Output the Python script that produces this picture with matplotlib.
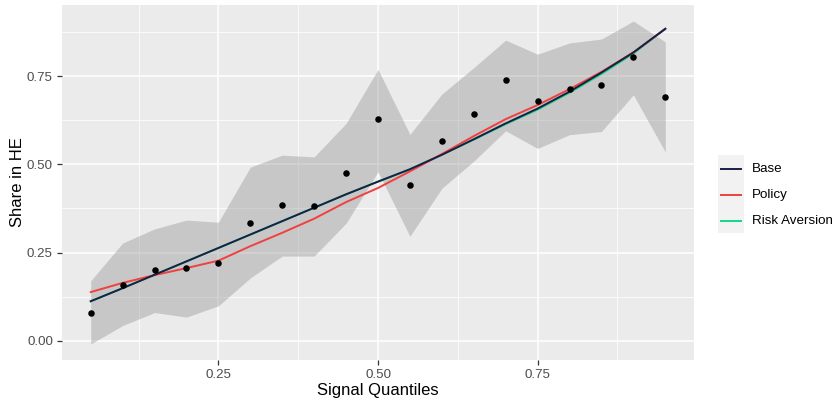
import numpy as np
import matplotlib
matplotlib.use("Agg")
import matplotlib.pyplot as plt
from matplotlib.lines import Line2D
from matplotlib.patches import Rectangle

plt.rcParams['font.family'] = ['Liberation Sans', 'DejaVu Sans']

# data
quantiles = [0.05, 0.10, 0.15, 0.20, 0.25, 0.30, 0.35, 0.40, 0.45, 0.50,
             0.55, 0.60, 0.65, 0.70, 0.75, 0.80, 0.85, 0.90, 0.95]
share = [0.080, 0.158, 0.201, 0.206, 0.219, 0.333, 0.384, 0.381, 0.475, 0.628,
         0.440, 0.567, 0.642, 0.738, 0.679, 0.713, 0.724, 0.804, 0.691]
ci_low = [-0.009, 0.043, 0.080, 0.067, 0.099, 0.178, 0.240, 0.240, 0.333, 0.479,
          0.296, 0.432, 0.509, 0.595, 0.545, 0.584, 0.593, 0.697, 0.535]
ci_high = [0.170, 0.277, 0.317, 0.342, 0.336, 0.492, 0.526, 0.521, 0.616, 0.769,
           0.585, 0.699, 0.774, 0.852, 0.812, 0.844, 0.855, 0.906, 0.847]
base = [0.112, 0.149, 0.187, 0.225, 0.263, 0.301, 0.339, 0.377, 0.415, 0.451,
        0.486, 0.527, 0.571, 0.616, 0.658, 0.706, 0.760, 0.817, 0.884]
policy = [0.138, 0.164, 0.186, 0.206, 0.227, 0.268, 0.306, 0.346, 0.393, 0.433,
          0.480, 0.529, 0.580, 0.628, 0.668, 0.713, 0.762, 0.817, 0.884]
risk_aversion = [0.112, 0.149, 0.187, 0.225, 0.263, 0.301, 0.339, 0.377, 0.415, 0.451,
                 0.486, 0.527, 0.570, 0.614, 0.655, 0.703, 0.756, 0.814, 0.884]

series_names = ['Base', 'Policy', 'Risk Aversion']
series_colors = ['#1C1F45', '#F04040', '#10D88A']

W, H = 834, 401
fig = plt.figure(figsize=(W / 100, H / 100), dpi=100)
fig.patch.set_facecolor('white')
ax = fig.add_axes([62 / W, 1 - 360 / H, (694 - 62) / W, (360 - 5) / H])
ax.set_facecolor('#EBEBEB')
for s in ax.spines.values():
    s.set_visible(False)

ax.set_xlim(0.005, 0.995)
ax.set_ylim(-0.0545, 0.9515)
ax.set_xticks([0.25, 0.50, 0.75])
ax.set_xticklabels(['0.25', '0.50', '0.75'])
ax.set_yticks([0.0, 0.25, 0.50, 0.75])
ax.set_yticklabels(['0.00', '0.25', '0.50', '0.75'])
ax.set_xticks([0.125, 0.375, 0.625, 0.875], minor=True)
ax.set_yticks([0.125, 0.375, 0.625, 0.875], minor=True)
ax.grid(which='major', color='white', linewidth=1.1)
ax.grid(which='minor', color='white', linewidth=0.55)
ax.set_axisbelow(True)
ax.tick_params(which='major', length=3.5, width=0.9, color='#333333',
               labelcolor='#4D4D4D', labelsize=9.6, pad=3)
ax.tick_params(which='minor', length=0)

ax.fill_between(quantiles, ci_low, ci_high, color='#999999', alpha=0.43,
                linewidth=0, zorder=2)
ax.plot(quantiles, risk_aversion, color=series_colors[2], lw=1.4, zorder=3)
ax.plot(quantiles, policy, color=series_colors[1], lw=1.4, zorder=4)
ax.plot(quantiles, base, color=series_colors[0], lw=1.4, zorder=5)
ax.scatter(quantiles, share, s=22, color='black', zorder=6, linewidths=0)

ax.set_xlabel('Signal Quantiles', fontsize=12, color='black', va='center')
ax.set_ylabel('Share in HE', fontsize=12, color='black', va='center')
ax.xaxis.set_label_coords(0.5, (360 - 390) / 355)
ax.yaxis.set_label_coords((18 - 62) / 632, 0.5)

# legend (no title), ggplot style keys
fig.add_artist(Rectangle((718 / W, 1 - 233 / H), 26 / W, 78 / H,
                         transform=fig.transFigure, facecolor='#F2F2F2',
                         edgecolor='none'))
for i, (name, col) in enumerate(zip(series_names, series_colors)):
    yy = 1 - (169 + 26 * i) / H
    fig.add_artist(Line2D([721 / W, 741 / W], [yy, yy], color=col, lw=1.4,
                          transform=fig.transFigure))
    fig.text(752 / W, yy, name, fontsize=9.6, va='center', ha='left')

fig.savefig('out.png', dpi=100)
